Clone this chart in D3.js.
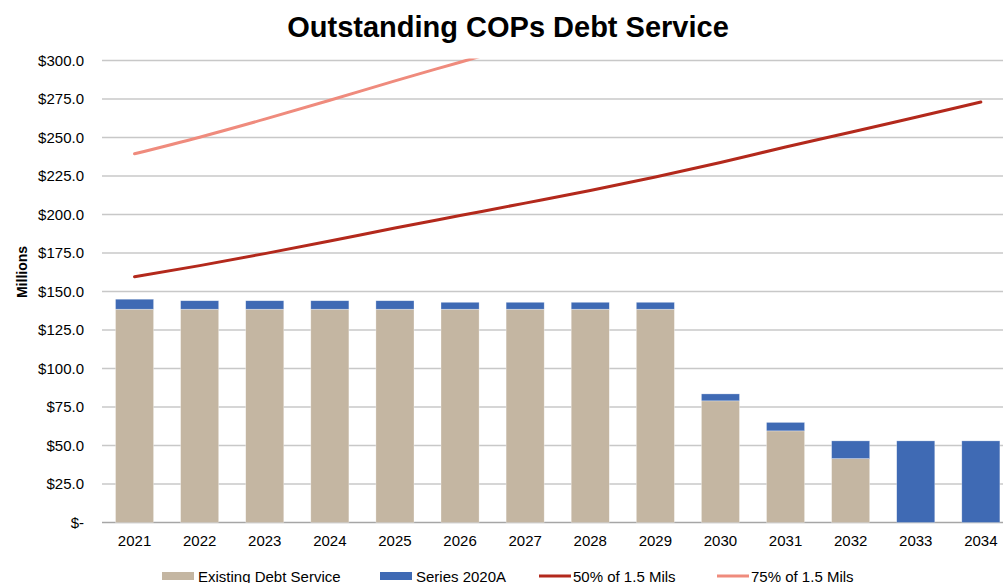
<!DOCTYPE html>
<html>
<head>
<meta charset="utf-8">
<script src="https://cdn.jsdelivr.net/npm/d3@7"></script>
<style>
  body { margin: 0; background: #fff; }
  text { font-family: "Liberation Sans", Arial, sans-serif; fill: #000; }
</style>
</head>
<body>
<div id="chart"></div>
<script>
// values in $ millions
var years = ["2021","2022","2023","2024","2025","2026","2027","2028","2029","2030","2031","2032","2033","2034"];
var existingDebt = [138.5,138.5,138.5,138.5,138.5,138.5,138.5,138.5,138.5,79,59.5,41.5,0,0];
var series2020A = [6.5,5.5,5.5,5.5,5.5,4.5,4.5,4.5,4.5,4.5,5.5,11.5,53,53];
var mils50 = [159.6,166.8,174.6,182.8,191.2,199.3,207.4,215.6,224.3,233.8,243.8,253.4,263.2,273];
var mils75 = [239.4,250.2,261.9,274.2,286.8,298.9,311.1,323.4,336.5,350.7,365.7,380.1,394.8,409.5];
var yTicks = [0,25,50,75,100,125,150,175,200,225,250,275,300];

var legendKeys = ["Existing Debt Service","Series 2020A","50% of 1.5 Mils","75% of 1.5 Mils"];
var colors = { existing: "#c4b6a2", s2020: "#3f6ab4", m50: "#b3291c", m75: "#ef8b7d" };

var svgWidth = 1003, svgHeight = 583;
var svg = d3.select("#chart").append("svg").attr("width", svgWidth).attr("height", svgHeight);

var plotLeft = 102, plotRight = 1013.4, plotTop = 60.5, plotBottom = 522.5;

var x = d3.scaleBand().domain(years).range([plotLeft, plotRight]).paddingInner(0.415).paddingOuter(0.2075);
var y = d3.scaleLinear().domain([0, 300]).range([plotBottom, plotTop]);

// title
svg.append("text").attr("x", 508).attr("y", 37).attr("text-anchor", "middle")
    .style("font-size", "29px").style("font-weight", "bold").text("Outstanding COPs Debt Service");

// gridlines
svg.append("g").selectAll("line").data(yTicks).enter().append("line")
    .attr("x1", plotLeft).attr("x2", svgWidth)
    .attr("y1", function (d) { return y(d); }).attr("y2", function (d) { return y(d); })
    .attr("stroke", function (d) { return d == 0 ? "#a6a6a6" : "#c8c8c8"; })
    .attr("stroke-width", 1.3);

// y axis labels
var yAxis = d3.axisLeft(y).tickValues(yTicks).tickSize(0).tickPadding(0)
    .tickFormat(function (d) { return d == 0 ? "$-" : "$" + d3.format(".1f")(d); });
var yg = svg.append("g").attr("transform", "translate(84,0)").call(yAxis);
yg.select(".domain").remove();
yg.selectAll("text").style("font-size", "15px").style("font-family", "Liberation Sans, Arial, sans-serif").attr("fill", "#000");

svg.append("text").attr("transform", "translate(27,272) rotate(-90)").attr("text-anchor", "middle")
    .style("font-size", "14px").style("font-weight", "bold").text("Millions");

// x axis labels
var xAxis = d3.axisBottom(x).tickSize(0).tickPadding(0);
var xg = svg.append("g").attr("transform", "translate(0,535)").call(xAxis);
xg.select(".domain").remove();
xg.selectAll("text").style("font-size", "15px").style("font-family", "Liberation Sans, Arial, sans-serif").attr("fill", "#000");

// stacked bars
var stackData = years.map(function (yr, i) { return { year: yr, existing: existingDebt[i], s2020: series2020A[i] }; });
var stacked = d3.stack().keys(["existing", "s2020"])(stackData);
svg.append("g").selectAll("g").data(stacked).enter().append("g")
    .attr("fill", function (d) { return colors[d.key]; })
    .selectAll("rect").data(function (d) { return d; }).enter().append("rect")
    .attr("x", function (d) { return x(d.data.year); })
    .attr("width", x.bandwidth())
    .attr("y", function (d) { return y(d[1]); })
    .attr("height", function (d) { return y(d[0]) - y(d[1]); })
    .attr("stroke", "#ffffff").attr("stroke-opacity", 0.5).attr("stroke-width", 0.6);

// lines, clipped at the top of the plot
svg.append("clipPath").attr("id", "plotclip").append("rect")
    .attr("x", 0).attr("y", plotTop - 2).attr("width", svgWidth).attr("height", plotBottom - plotTop + 4);

var line = d3.line()
    .x(function (d, i) { return x(years[i]) + x.bandwidth() / 2; })
    .y(function (d) { return y(d); })
    .curve(d3.curveMonotoneX);

var lg = svg.append("g").attr("clip-path", "url(#plotclip)");
lg.append("path").attr("d", line(mils75)).attr("fill", "none").attr("stroke", colors.m75)
    .attr("stroke-width", 3).attr("stroke-linecap", "round");
lg.append("path").attr("d", line(mils50)).attr("fill", "none").attr("stroke", colors.m50)
    .attr("stroke-width", 3).attr("stroke-linecap", "round");

// legend
var legendX = [162, 380, 539, 717];
var legendColors = [colors.existing, colors.s2020, colors.m50, colors.m75];
var lgd = svg.append("g").selectAll("g").data(legendKeys).enter().append("g")
    .attr("transform", function (d, i) { return "translate(" + legendX[i] + ",576)"; });
lgd.append("rect")
    .attr("y", function (d, i) { return i < 2 ? -4 : -1.5; })
    .attr("width", 32)
    .attr("height", function (d, i) { return i < 2 ? 8 : 3; })
    .attr("fill", function (d, i) { return legendColors[i]; });
lgd.append("text").attr("x", function (d, i) { return i < 2 ? 36 : 34; }).attr("y", 5.5)
    .style("font-size", "15px").text(function (d) { return d; });
</script>
</body>
</html>
